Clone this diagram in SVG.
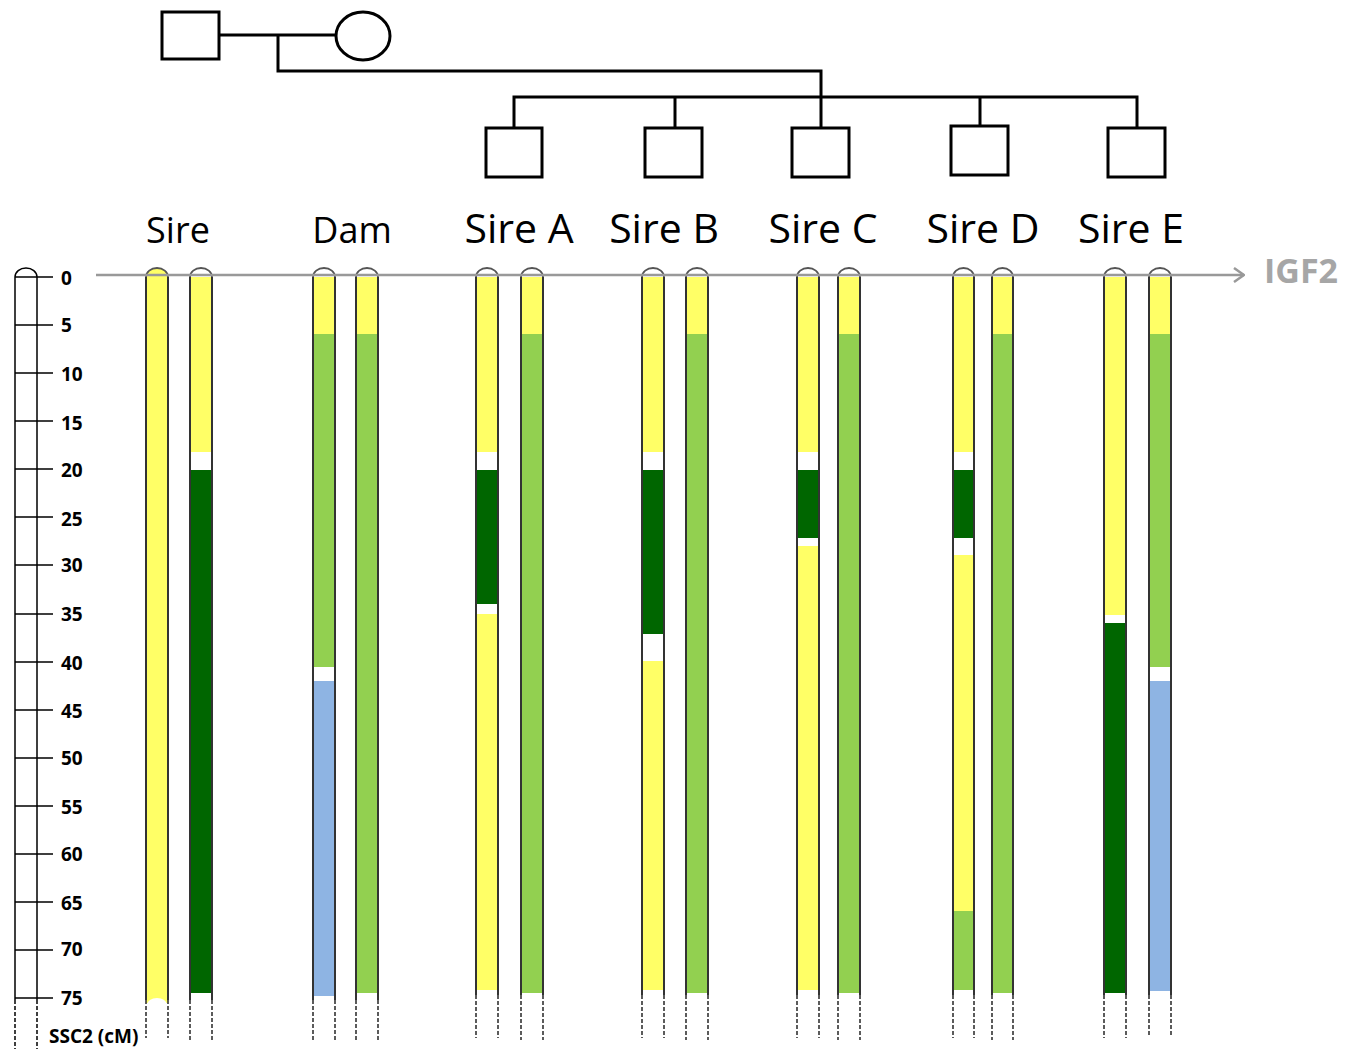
<svg xmlns="http://www.w3.org/2000/svg" width="1346" height="1049" viewBox="0 0 1346 1049">
  <defs>
    <style>
      .ped { fill: #fff; stroke: #000; stroke-width: 3; }
      .link { fill: none; stroke: #000; stroke-width: 3; }
      .lab { font-family: "Open Sans", "Liberation Sans", sans-serif; fill: #000; text-anchor: middle; }
      .tick { font-family: "Open Sans", "Liberation Sans", sans-serif; font-weight: bold; font-size: 19px; fill: #000; }
      .y { fill: #FFFF66; }
      .g { fill: #92D050; }
      .d { fill: #006600; }
      .b { fill: #8EB4E3; }
      .w { fill: #fff; }
      .edge { stroke: #333; stroke-width: 2; fill: none; }
      .dash { stroke: #333; stroke-width: 1.6; stroke-dasharray: 4 2; fill: none; }
      .cap { stroke: #555; stroke-width: 1.8; fill: #fff; }
      .capy { stroke: #555; stroke-width: 1.8; fill: #FFFF66; }
      .rule { stroke: #000; stroke-width: 1.5; fill: none; }
    </style>
    <marker id="arrow" viewBox="0 0 12 16" refX="11" refY="8" markerWidth="12" markerHeight="16" markerUnits="userSpaceOnUse" orient="auto">
      <path d="M1 1 L11 8 L1 15" fill="none" stroke="#999" stroke-width="2.5"/>
    </marker>
  </defs>

  <!-- pedigree -->
  <g id="connectors">
    <path class="link" d="M219 35 H336"/>
    <path class="link" d="M278 35 V71 H821 V128"/>
    <path class="link" d="M514 128 V97 H1137 V128"/>
    <path class="link" d="M675 97 V128"/>
    <path class="link" d="M980 97 V128"/>
  </g>
  <g id="sire-parent"><rect class="ped" x="162" y="12" width="57" height="47"/></g>
  <g id="dam-parent"><ellipse class="ped" cx="363" cy="36" rx="27" ry="24"/></g>
  <g id="sire-a-node"><rect class="ped" x="486" y="128" width="56" height="49"/></g>
  <g id="sire-b-node"><rect class="ped" x="645" y="128" width="57" height="49"/></g>
  <g id="sire-c-node"><rect class="ped" x="792" y="128" width="57" height="49"/></g>
  <g id="sire-d-node"><rect class="ped" x="951" y="126" width="57" height="49"/></g>
  <g id="sire-e-node"><rect class="ped" x="1108" y="128" width="57" height="49"/></g>

  <!-- column titles -->
  <g id="titles">
    <text class="lab" x="178" y="243" font-size="36">Sire</text>
    <text class="lab" x="352" y="243" font-size="36">Dam</text>
    <text class="lab" x="519" y="243" font-size="41">Sire A</text>
    <text class="lab" x="664" y="243" font-size="41">Sire B</text>
    <text class="lab" x="823" y="243" font-size="41">Sire C</text>
    <text class="lab" x="983" y="243" font-size="41">Sire D</text>
    <text class="lab" x="1131" y="243" font-size="41">Sire E</text>
  </g>

  <!-- cM ruler -->
  <g id="ruler">
    <path class="rule" d="M15 277 A11 9 0 0 1 37 277"/>
    <path class="rule" d="M15 277 V1000 M37 277 V1000"/>
    <path class="rule" stroke-dasharray="4 2" d="M15 1000 V1049 M37 1000 V1049"/>
    <path class="rule" d="M15 277 H53 M15 325 H53 M15 373 H53 M15 421 H53 M15 469 H53 M15 517 H53 M15 565 H53 M15 614 H53 M15 662 H53 M15 710 H53 M15 758 H53 M15 806 H53 M15 854 H53 M15 902 H53 M15 950 H53 M15 998 H53"/>
    <text class="tick" x="61" y="285">0</text>
    <text class="tick" x="61" y="332">5</text>
    <text class="tick" x="61" y="381">10</text>
    <text class="tick" x="61" y="430">15</text>
    <text class="tick" x="61" y="477">20</text>
    <text class="tick" x="61" y="526">25</text>
    <text class="tick" x="61" y="572">30</text>
    <text class="tick" x="61" y="621">35</text>
    <text class="tick" x="61" y="670">40</text>
    <text class="tick" x="61" y="718">45</text>
    <text class="tick" x="61" y="765">50</text>
    <text class="tick" x="61" y="814">55</text>
    <text class="tick" x="61" y="861">60</text>
    <text class="tick" x="61" y="910">65</text>
    <text class="tick" x="61" y="956">70</text>
    <text class="tick" x="61" y="1005">75</text>
    <text class="tick" x="49" y="1043" font-size="22">SSC2 (cM)</text>
  </g>

  <!-- chromosome segments -->
  <g id="chromosomes">
    <!-- Sire -->
    <rect class="y" x="146" y="277" width="22" height="726"/>
    <ellipse class="w" cx="157" cy="1005" rx="10" ry="7"/>
    <rect class="y" x="190" y="277" width="22" height="175"/>
    <rect class="d" x="190" y="470" width="22" height="523"/>

    <!-- Dam -->
    <rect class="y" x="313" y="277" width="22" height="57"/>
    <rect class="g" x="313" y="334" width="22" height="333"/>
    <rect class="b" x="313" y="681" width="22" height="315"/>
    <rect class="y" x="356" y="277" width="22" height="57"/>
    <rect class="g" x="356" y="334" width="22" height="659"/>

    <!-- Sire A -->
    <rect class="y" x="476" y="277" width="22" height="175"/>
    <rect class="d" x="476" y="470" width="22" height="134"/>
    <rect class="y" x="476" y="614" width="22" height="376"/>
    <rect class="y" x="521" y="277" width="22" height="57"/>
    <rect class="g" x="521" y="334" width="22" height="659"/>

    <!-- Sire B -->
    <rect class="y" x="642" y="277" width="22" height="175"/>
    <rect class="d" x="642" y="470" width="22" height="164"/>
    <rect class="y" x="642" y="661" width="22" height="329"/>
    <rect class="y" x="686" y="277" width="22" height="57"/>
    <rect class="g" x="686" y="334" width="22" height="659"/>

    <!-- Sire C -->
    <rect class="y" x="797" y="277" width="22" height="175"/>
    <rect class="d" x="797" y="470" width="22" height="68"/>
    <rect class="y" x="797" y="546" width="22" height="444"/>
    <rect class="y" x="838" y="277" width="22" height="57"/>
    <rect class="g" x="838" y="334" width="22" height="659"/>

    <!-- Sire D -->
    <rect class="y" x="953" y="277" width="21" height="175"/>
    <rect class="d" x="953" y="470" width="21" height="68"/>
    <rect class="y" x="953" y="555" width="21" height="356"/>
    <rect class="g" x="953" y="911" width="21" height="79"/>
    <rect class="y" x="992" y="277" width="21" height="57"/>
    <rect class="g" x="992" y="334" width="21" height="659"/>

    <!-- Sire E -->
    <rect class="y" x="1104" y="277" width="22" height="338"/>
    <rect class="d" x="1104" y="623" width="22" height="370"/>
    <rect class="y" x="1149" y="277" width="22" height="57"/>
    <rect class="g" x="1149" y="334" width="22" height="333"/>
    <rect class="b" x="1149" y="681" width="22" height="310"/>
  </g>

  <!-- chromosome outlines -->
  <g id="outlines">
    <path class="capy" d="M146 277 A11 9 0 0 1 168 277"/>
    <path class="cap" d="M190 277 A11 9 0 0 1 212 277"/>
    <path class="cap" d="M313 277 A11 9 0 0 1 335 277"/>
    <path class="cap" d="M356 277 A11 9 0 0 1 378 277"/>
    <path class="cap" d="M476 277 A11 9 0 0 1 498 277"/>
    <path class="cap" d="M521 277 A11 9 0 0 1 543 277"/>
    <path class="cap" d="M642 277 A11 9 0 0 1 664 277"/>
    <path class="cap" d="M686 277 A11 9 0 0 1 708 277"/>
    <path class="cap" d="M797 277 A11 9 0 0 1 819 277"/>
    <path class="cap" d="M838 277 A11 9 0 0 1 860 277"/>
    <path class="cap" d="M953 277 A10.5 9 0 0 1 974 277"/>
    <path class="cap" d="M992 277 A10.5 9 0 0 1 1013 277"/>
    <path class="cap" d="M1104 277 A11 9 0 0 1 1126 277"/>
    <path class="cap" d="M1149 277 A11 9 0 0 1 1171 277"/>

    <path class="edge" d="M146 277 V1000 M168 277 V1000 M190 277 V1000 M212 277 V1000 M313 277 V1000 M335 277 V1000 M356 277 V1000 M378 277 V1000 M476 277 V995 M498 277 V995 M521 277 V995 M543 277 V995 M642 277 V995 M664 277 V995 M686 277 V995 M708 277 V995 M797 277 V995 M819 277 V995 M838 277 V995 M860 277 V995 M953 277 V995 M974 277 V995 M992 277 V995 M1013 277 V995 M1104 277 V995 M1126 277 V995 M1149 277 V995 M1171 277 V995"/>
    <path class="dash" d="M146 1000 V1038 M168 1000 V1038 M190 1000 V1040 M212 1000 V1040 M313 1000 V1040 M335 1000 V1040 M356 1000 V1040 M378 1000 V1040 M476 995 V1038 M498 995 V1038 M521 995 V1040 M543 995 V1040 M642 995 V1038 M664 995 V1038 M686 995 V1040 M708 995 V1040 M797 995 V1038 M819 995 V1038 M838 995 V1040 M860 995 V1040 M953 995 V1038 M974 995 V1038 M992 995 V1040 M1013 995 V1040 M1104 995 V1038 M1126 995 V1038 M1149 995 V1036 M1171 995 V1036"/>
  </g>

  <!-- IGF2 position -->
  <g id="igf2">
    <path d="M96 275 H1244" stroke="#999" stroke-width="2.5" fill="none" marker-end="url(#arrow)"/>
    <text x="1264" y="283" font-family="'Open Sans', 'Liberation Sans', sans-serif" font-weight="bold" font-size="34" fill="#A6A6A6">IGF2</text>
  </g>
</svg>
